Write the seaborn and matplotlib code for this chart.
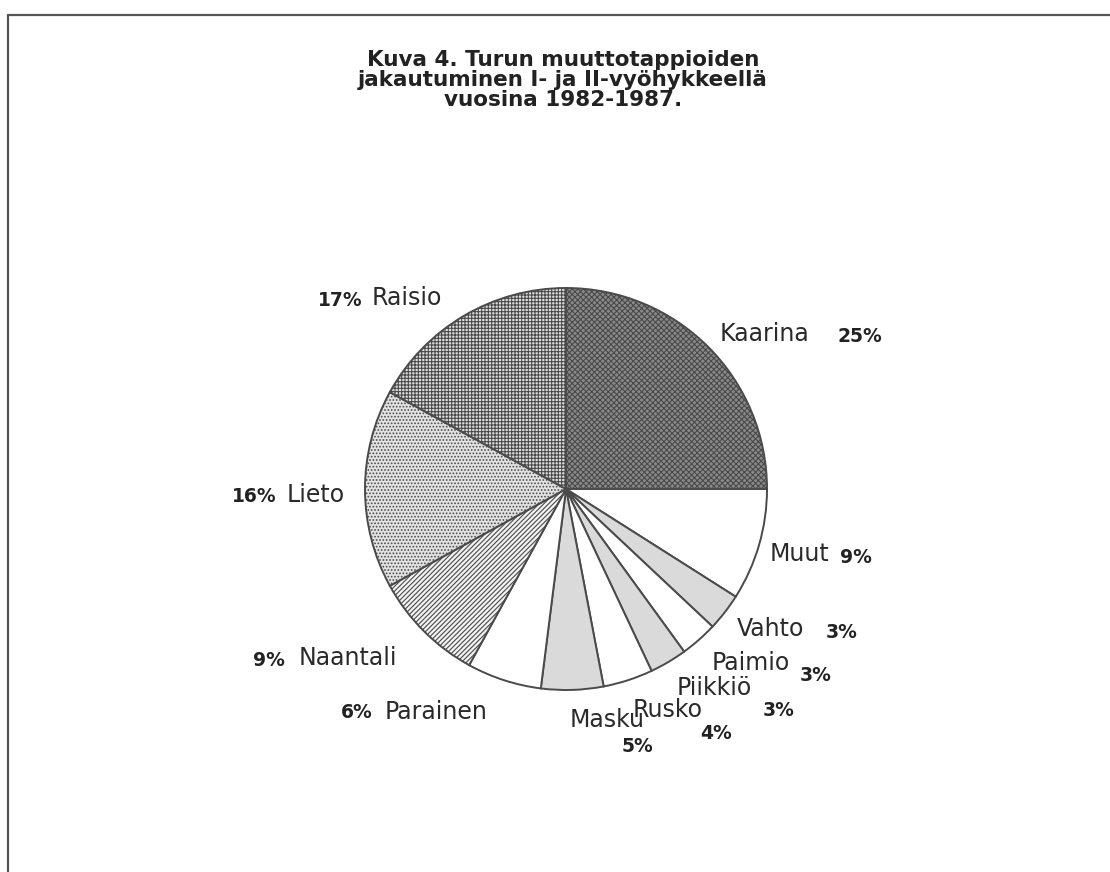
# Kuva 4 - Turun muuttotappiot, piirakkakuvio
import matplotlib
matplotlib.use("Agg")
import matplotlib.pyplot as plt
from matplotlib.lines import Line2D
import seaborn as sns

sns.set_theme(style="white")
plt.rcParams['font.family'] = ['DejaVu Sans']
plt.rcParams['hatch.linewidth'] = 0.8

# ---------- data ----------
kunnat = ['Kaarina', 'Muut', 'Vahto', 'Paimio', 'Piikkiö', 'Rusko',
          'Masku', 'Parainen', 'Naantali', 'Lieto', 'Raisio']
osuudet = [25, 9, 3, 3, 3, 4, 5, 6, 9, 16, 17]
prosentit = ['25%', '9%', '3%', '3%', '3%', '4%', '5%', '6%', '9%', '16%', '17%']

# fill + hatch per slice
tyylit = [
    ('#8a8a8a', 'xxxxxx'),  # Kaarina
    ('white', ''),          # Muut
    ('#dadada', ''),        # Vahto
    ('white', ''),          # Paimio
    ('#dadada', ''),        # Piikkiö
    ('white', ''),          # Rusko
    ('#dadada', ''),        # Masku
    ('white', ''),          # Parainen
    ('#f2f2f2', '///////'), # Naantali
    ('#e2e2e2', '.....'),   # Lieto
    ('#e0e0e0', '+++++'),   # Raisio
]

# label placement in pixels: (x, y of name), (x, y of percent)
paikat = [
    ((720, 334), (838, 336)),   # Kaarina
    ((770, 554), (840, 557)),   # Muut
    ((737, 629), (826, 632)),   # Vahto
    ((712, 663), (800, 675)),   # Paimio
    ((677, 688), (763, 710)),   # Piikkiö
    ((633, 710), (700, 733)),   # Rusko
    ((570, 720), (622, 747)),   # Masku
    ((385, 712), (341, 712)),   # Parainen
    ((299, 658), (253, 660)),   # Naantali
    ((287, 495), (232, 496)),   # Lieto
    ((372, 298), (318, 300)),   # Raisio
]

W, H = 1110, 872
CX, CY, R = 566, 489, 201

fig = plt.figure(figsize=(W / 100, H / 100), dpi=100)
fig.patch.set_facecolor('white')
ax = fig.add_axes([0, 0, 1, 1])

wedges, _ = ax.pie(osuudet, startangle=90, counterclock=False,
                   radius=1, wedgeprops=dict(edgecolor='#4a4a4a', linewidth=1.4))
for w, (fc, hatch) in zip(wedges, tyylit):
    w.set_facecolor(fc)
    w.set_hatch(hatch)

ax.set_xlim(-CX / R, (W - CX) / R)
ax.set_ylim(-(H - CY) / R, CY / R)
ax.set_aspect('equal')
ax.axis('off')


def px(x, y):
    return (x - CX) / R, (CY - y) / R


for nimi, pros, (npos, ppos) in zip(kunnat, prosentit, paikat):
    ax.text(*px(*npos), nimi, fontsize=17, color='#2a2a2a', ha='left', va='center')
    ax.text(*px(*ppos), pros, fontsize=13.5, fontweight='bold', color='#222222',
            ha='left', va='center')

fig.text(563 / W, 1 - 80 / H,
         'Kuva 4. Turun muuttotappioiden\njakautuminen I- ja II-vyöhykkeellä\nvuosina 1982-1987.',
         fontsize=15.5, fontweight='bold', color='#222222', ha='center', va='center',
         linespacing=1.02)

# frame lines (top and left)
fig.add_artist(Line2D([8 / W, 1], [1 - 15 / H, 1 - 15 / H], transform=fig.transFigure,
                      color='#555555', linewidth=1.6))
fig.add_artist(Line2D([8 / W, 8 / W], [0, 1 - 15 / H], transform=fig.transFigure,
                      color='#555555', linewidth=1.6))

fig.savefig('out.png', dpi=100, facecolor='white')
